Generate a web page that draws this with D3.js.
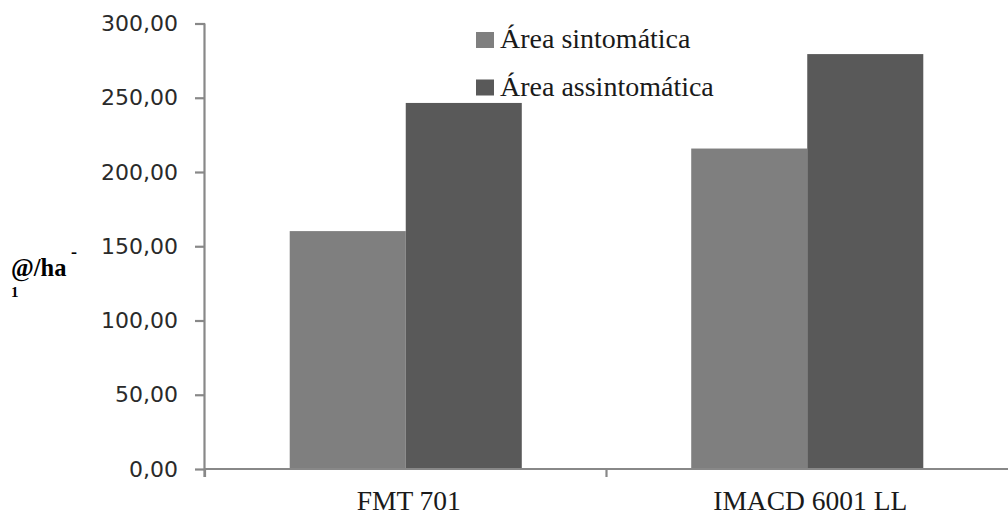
<!DOCTYPE html>
<html>
<head>
<meta charset="utf-8">
<script src="https://cdn.jsdelivr.net/npm/d3@7"></script>
<style>
  html, body { margin: 0; padding: 0; background: #fff; }
  svg { display: block; }
</style>
</head>
<body>
<svg id="chart" width="1008" height="515"></svg>
<script>
// values
const CATEGORIES = ["FMT 701", "IMACD 6001 LL"];
const SERIES = ["Área sintomática", "Área assintomática"];
const SINTOMATICA = [160.2, 215.8];
const ASSINTOMATICA = [246.5, 279.4];
const Y_TICKS = [0, 50, 100, 150, 200, 250, 300];
const COLORS = ["#7f7f7f", "#595959"];

const rows = CATEGORIES.map((c, i) => ({
    cat: c,
    vals: [
        { key: SERIES[0], v: SINTOMATICA[i] },
        { key: SERIES[1], v: ASSINTOMATICA[i] },
    ],
}));

const plotL = 205, plotR = 1008, plotT = 23.5, plotB = 469;
const AXIS = "#888";

const svg = d3.select("#chart");

const x0 = d3.scaleBand().domain(CATEGORIES).range([plotL, plotR])
    .paddingInner(0.422).paddingOuter(0.211);
const x1 = d3.scaleBand().domain(SERIES).range([0, x0.bandwidth()]);
const y = d3.scaleLinear().domain([0, 300]).range([plotB, plotT]);
const color = d3.scaleOrdinal().domain(SERIES).range(COLORS);
const fmt = d => d3.format(".2f")(d).replace(".", ",");

// bars
svg.append("g").selectAll("g")
    .data(rows).join("g")
    .attr("transform", d => `translate(${x0(d.cat)},0)`)
    .selectAll("rect")
    .data(d => d.vals).join("rect")
    .attr("x", d => x1(d.key))
    .attr("width", x1.bandwidth())
    .attr("y", d => y(d.v))
    .attr("height", d => y(0) - y(d.v))
    .attr("fill", d => color(d.key));

// y axis
const yAxis = svg.append("g")
    .attr("transform", `translate(${plotL},0)`)
    .call(d3.axisLeft(y).tickValues(Y_TICKS).tickFormat(fmt).tickSize(10).tickPadding(17));
yAxis.select(".domain").attr("stroke", AXIS).attr("stroke-width", 2.2)
    .attr("d", `M-0.5,${plotT}V${plotB + 8}`);
yAxis.selectAll(".tick line").attr("stroke", AXIS).attr("stroke-width", 2.2);
yAxis.selectAll(".tick text")
    .attr("fill", "#2a2a2a")
    .style("font-family", "'DejaVu Sans', Verdana, sans-serif")
    .style("font-size", "22px");

// x axis (category ticks sit on the band boundaries)
const xAxis = svg.append("g").attr("transform", `translate(0,${plotB})`);
xAxis.append("line")
    .attr("x1", plotL).attr("x2", plotR)
    .attr("stroke", AXIS).attr("stroke-width", 2.2);
const step = x0.step();
const bounds = CATEGORIES.map(c => x0(c) - step * x0.paddingInner() / 2);
xAxis.selectAll("line.tk").data(bounds).join("line")
    .attr("class", "tk")
    .attr("x1", d => d).attr("x2", d => d)
    .attr("y1", 0).attr("y2", 8)
    .attr("stroke", AXIS).attr("stroke-width", 2.2);
xAxis.selectAll("text").data(CATEGORIES).join("text")
    .attr("x", d => x0(d) + x0.bandwidth() / 2 + 3)
    .attr("y", 41)
    .attr("text-anchor", "middle")
    .attr("fill", "#1a1a1a")
    .style("font-family", "'Liberation Serif', 'Times New Roman', serif")
    .style("font-size", "27.5px")
    .text(d => d);

// legend
const legend = svg.append("g").attr("transform", "translate(476,32)");
const li = legend.selectAll("g").data(SERIES).join("g")
    .attr("transform", (d, i) => `translate(0,${i * 47.5})`);
li.append("rect").attr("width", 18).attr("height", 16).attr("fill", d => color(d));
li.append("text")
    .attr("x", 24).attr("y", 16)
    .attr("fill", "#1a1a1a")
    .style("font-family", "'Liberation Serif', 'Times New Roman', serif")
    .style("font-size", "28px")
    .text(d => d);

// y axis title
const title = svg.append("text")
    .attr("fill", "#000")
    .style("font-family", "'Liberation Serif', 'Times New Roman', serif")
    .style("font-weight", "bold");
title.append("tspan").attr("x", 11).attr("y", 276).style("font-size", "24.5px").text("@/ha");
title.append("tspan").attr("x", 71).attr("y", 258).style("font-size", "18px").text("-");
title.append("tspan").attr("x", 11).attr("y", 297).style("font-size", "15px").text("1");
</script>
</body>
</html>
